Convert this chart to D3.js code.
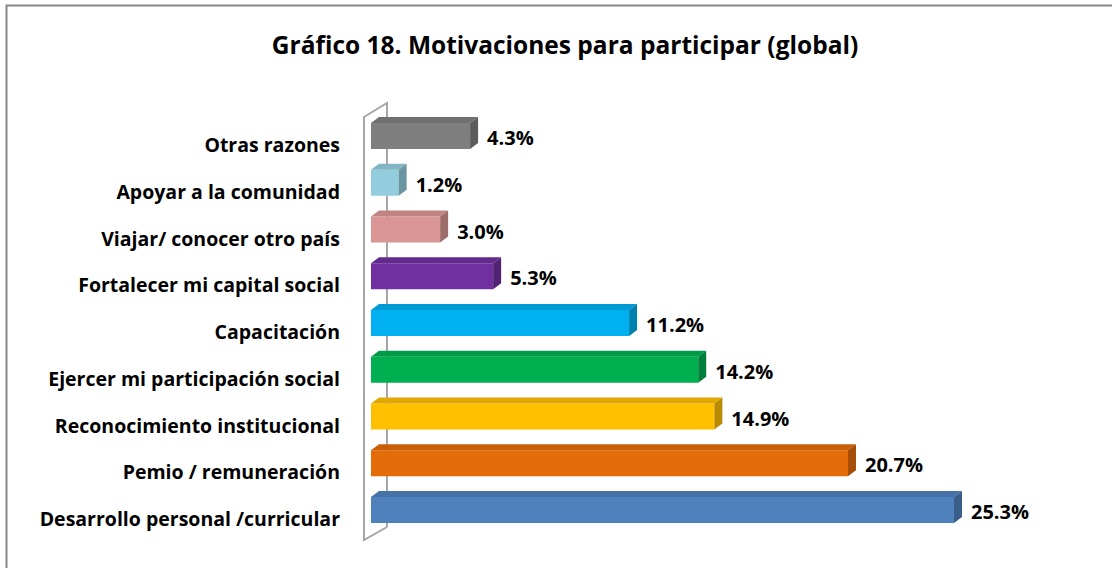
<!DOCTYPE html>
<html>
<head>
<meta charset="utf-8">
<script src="https://cdn.jsdelivr.net/npm/d3@7"></script>
<style>
  body { margin: 0; background: #fff; }
  text { font-family: "Open Sans", "Noto Sans", sans-serif; font-weight: bold; fill: #000; }
</style>
</head>
<body>
<script>
// data, top to bottom as drawn
var categories = ["Otras razones", "Apoyar a la comunidad", "Viajar/ conocer otro país",
  "Fortalecer mi capital social", "Capacitación ", "Ejercer mi participación social",
  "Reconocimiento institucional", "Pemio / remuneración", "Desarrollo personal /curricular"];
var values = [4.3, 1.2, 3.0, 5.3, 11.2, 14.2, 14.9, 20.7, 25.3];
var colors = ["#7f7f7f", "#93cddd", "#d99694", "#7030a0", "#00b0f0", "#00b050", "#ffc000", "#e36c09", "#4f81bd"];

var W = 1112, H = 568;
var dx = 8, dy = -6, barH = 26;

var svg = d3.select("body").append("svg")
  .attr("width", W)
  .attr("height", H);

// outer frame
svg.append("rect")
  .attr("x", 6.5).attr("y", 5.5)
  .attr("width", W + 10).attr("height", H + 10)
  .attr("fill", "none")
  .attr("stroke", "#878787")
  .attr("stroke-width", 2);

svg.append("text")
  .attr("x", 565)
  .attr("y", 54)
  .attr("text-anchor", "middle")
  .style("font-size", "24.5px")
  .text("Gráfico 18. Motivaciones para participar (global)");

var x = d3.scaleLinear().domain([0, 25.3]).range([371, 954]);
var y = d3.scalePoint().domain(categories).range([136, 510]);

// 3d wall
var wall = svg.append("g")
  .attr("fill", "none")
  .attr("stroke", "#a6a6a6")
  .attr("stroke-width", 2);
wall.append("path")
  .attr("d", "M387,527 L387,103 L364,117 L364,540 L387,527");

var bars = svg.selectAll(".bar")
  .data(categories)
  .enter().append("g")
  .attr("class", "bar");

bars.append("rect")
  .attr("x", x(0))
  .attr("y", function(d) { return y(d) - barH / 2; })
  .attr("width", function(d, i) { return x(values[i]) - x(0); })
  .attr("height", barH)
  .attr("fill", function(d, i) { return colors[i]; });

// top face
bars.append("path")
  .attr("d", function(d, i) {
    var x0 = x(0), x1 = x(values[i]), t = y(d) - barH / 2;
    return "M" + x0 + "," + t + "L" + (x0 + dx) + "," + (t + dy) + "L" + (x1 + dx) + "," + (t + dy) + "L" + x1 + "," + t + "Z";
  })
  .attr("fill", function(d, i) { return d3.color(colors[i]).darker(0.35); });

// side face
bars.append("path")
  .attr("d", function(d, i) {
    var x1 = x(values[i]), t = y(d) - barH / 2, b = t + barH;
    return "M" + x1 + "," + t + "L" + (x1 + dx) + "," + (t + dy) + "L" + (x1 + dx) + "," + (b + dy) + "L" + x1 + "," + b + "Z";
  })
  .attr("fill", function(d, i) { return d3.color(colors[i]).darker(0.9); });

// value labels
bars.append("text")
  .attr("x", function(d, i) { return x(values[i]) + dx + 9; })
  .attr("y", function(d) { return y(d) + 9; })
  .style("font-size", "20px")
  .text(function(d, i) { return values[i].toFixed(1) + "%"; });

// category labels
svg.append("g")
  .selectAll("text")
  .data(categories)
  .enter().append("text")
  .attr("x", 340)
  .attr("y", function(d) { return y(d) + 16; })
  .attr("text-anchor", "end")
  .style("font-size", "19.5px")
  .text(function(d) { return d; });
</script>
</body>
</html>
